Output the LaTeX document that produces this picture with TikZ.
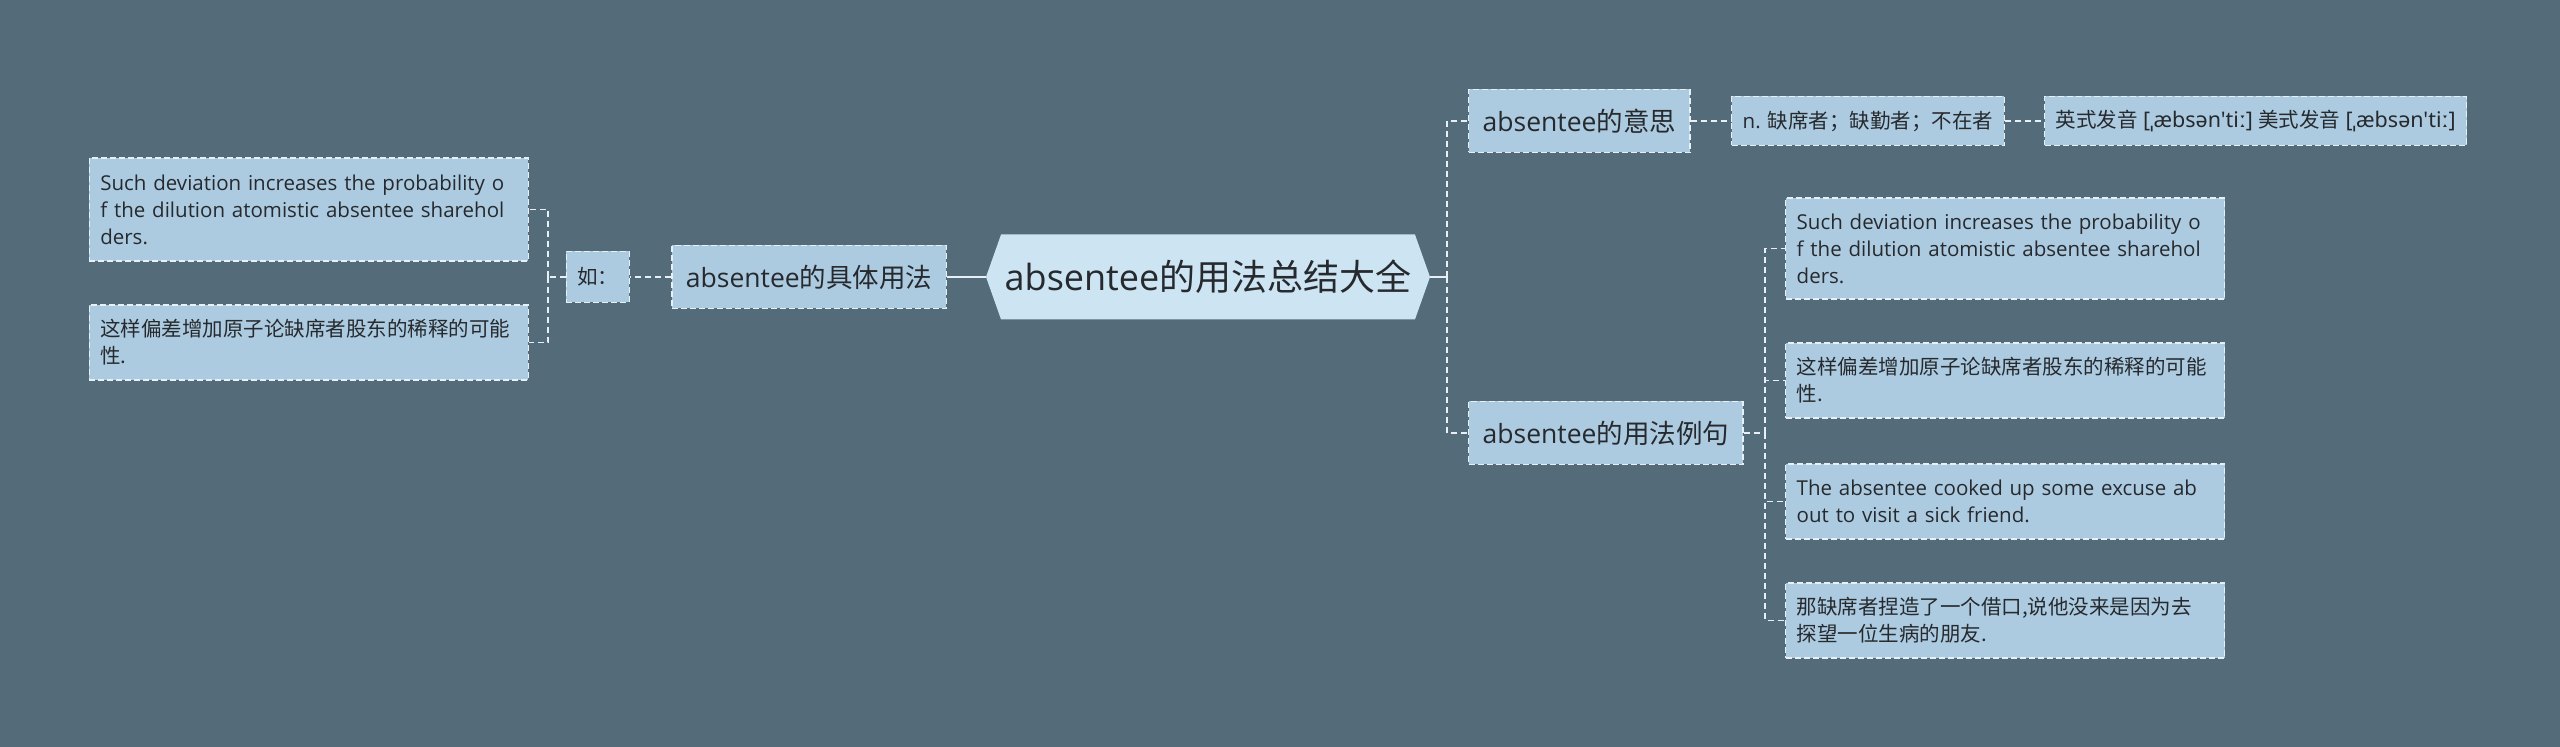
\documentclass[tikz,border=0pt]{standalone}
\usepackage{fontspec}
\setmainfont{Open Sans}
\newfontfamily\cjk{Noto Sans CJK SC}
\newfontfamily\ipa[Ligatures=TeXOff]{Noto Sans}
\usetikzlibrary{shapes.symbols}

\definecolor{bgslate}{HTML}{546B7A}
\definecolor{boxblue}{HTML}{ADCBE0}
\definecolor{rootblue}{HTML}{CDE4F2}
\definecolor{dashwhite}{HTML}{E6F0F6}
\definecolor{inkgray}{HTML}{262A2E}

\tikzset{
  box/.style={draw=dashwhite, fill=boxblue, dash pattern=on 3pt off 1.5pt, line width=0.7pt, text=inkgray, inner ysep=0pt},
  topic/.style={box, font=\fontsize{13.25}{16}\selectfont, inner xsep=7pt, minimum height=31.5pt},
  note/.style={box, font=\fontsize{10.25}{13.5}\selectfont, inner xsep=5.5pt, minimum height=24.5pt},
  leaf/.style={box, font=\fontsize{10.25}{13.5}\selectfont, inner xsep=5.5pt, text width=208.5pt, align=left},
  link/.style={draw=dashwhite, line width=0.8pt, dash pattern=on 3pt off 2pt},
  rootlink/.style={draw=dashwhite, line width=1.2pt}
}

\begin{document}
\begin{tikzpicture}[x=0.5pt, y=-0.5pt]
    \fill[bgslate] (0,0) rectangle (2560,747);
    \useasboundingbox (0,0) rectangle (2560,747);

    \node[signal, signal to=west and east, signal pointer angle=141, fill=rootblue, text=inkgray,
      minimum width=222pt, minimum height=42.5pt, inner sep=0pt, font=\fontsize{18}{22}\selectfont]
      (root) at (1208,277) {absentee{\cjk 的用法总结大全}};

    % right side
    \node[topic, anchor=west] (yiyi) at (1468,121) {absentee{\cjk 的意思}};
    \node[note, anchor=west] (ciyi) at (1731,121) {n. {\cjk 缺席者；缺勤者；不在者}};
    \node[note, anchor=west] (fayin) at (2044,121) {{\cjk 英式发音} {\ipa\fontsize{10.75}{13.5}\selectfont [ˌæbsən'tiː]} {\cjk 美式发音} {\ipa\fontsize{10.75}{13.5}\selectfont [ˌæbsən'tiː]}};
    \node[topic, anchor=west] (liju) at (1468,433) {absentee{\cjk 的用法例句}};

    \node[leaf, anchor=west, minimum height=50.5pt] (rex1) at (1785,248.5)
      {Such deviation increases the probability o\\f the dilution atomistic absentee sharehol\\ders.};
    \node[leaf, anchor=west, minimum height=37.5pt] (rex2) at (1785,380.5)
      {\cjk 这样偏差增加原子论缺席者股东的稀释的可能\\性.};
    \node[leaf, anchor=west, minimum height=37.5pt] (rex3) at (1785,501.5)
      {The absentee cooked up some excuse ab\\out to visit a sick friend.};
    \node[leaf, anchor=west, minimum height=37.5pt] (rex4) at (1785,620.5)
      {\cjk 那缺席者捏造了一个借口,说他没来是因为去\\探望一位生病的朋友.};

    % left side
    \node[topic, anchor=east] (yongfa) at (947,277) {absentee{\cjk 的具体用法}};
    \node[note, anchor=east, minimum height=25.5pt] (ru) at (630,277) {\cjk 如：};
    \node[leaf, anchor=east, minimum height=51.5pt] (lex1) at (529,209.5)
      {Such deviation increases the probability o\\f the dilution atomistic absentee sharehol\\ders.};
    \node[leaf, anchor=east, minimum height=37.5pt] (lex2) at (529,342.5)
      {\cjk 这样偏差增加原子论缺席者股东的稀释的可能\\性.};

    \coordinate (rtrunk) at (1447,277);
    \coordinate (etrunk) at (1765,433);
    \coordinate (ltrunk) at (548,277);

    \draw[rootlink] (root.east) -- (rtrunk);
    \draw[link] (rtrunk) |- (yiyi.west);
    \draw[link] (rtrunk) |- (liju.west);
    \draw[link] (yiyi) -- (ciyi);
    \draw[link] (ciyi) -- (fayin);
    \draw[link] (liju.east) -- (etrunk);
    \foreach \n in {rex1,rex2,rex3,rex4}
      \draw[link] (etrunk) |- (\n.west);

    \draw[rootlink] (root.west) -- (yongfa.east);
    \draw[link] (yongfa) -- (ru);
    \draw[link] (ru.west) -- (ltrunk);
    \draw[link] (ltrunk) |- (lex1.east);
    \draw[link] (ltrunk) |- (lex2.east);

  \end{tikzpicture}
\end{document}
